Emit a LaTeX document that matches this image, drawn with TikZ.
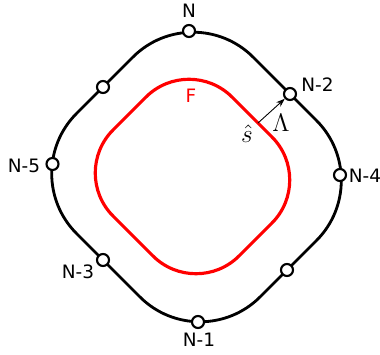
\documentclass[tikz,border=0pt]{standalone}
\usepackage{fontspec}
\setsansfont{DejaVu Sans}
\usetikzlibrary{arrows.meta}
\begin{document}
\begin{tikzpicture}[x=0.02cm,y=-0.02cm,
  site/.style={circle,draw,fill=white,line width=1.2pt,inner sep=0pt,minimum size=0.24cm},
  lbl/.style={font=\sffamily\fontsize{10.5}{12}\selectfont,inner sep=0pt}]
  \useasboundingbox (0,0) rectangle (380,355);
  % inner front F
  \draw[red,line width=1.8pt,rounded corners=1.22cm] (129.5,113.5) -- (189,54) -- (315,180) -- (196,299) -- (70,173) -- (129.5,113.5);
  \node[lbl,red] (F) at (191,96) {F};
  % outer front
  \draw[line width=1.6pt,rounded corners=1.7cm] (104.75,85.25) -- (193,-3) -- (376.5,180.5) -- (200,357) -- (16.5,173.5) -- (104.75,85.25);
  \node[site] (n) at (189,31) {};
  \node[site] (a) at (103,87) {};
  \node[site] (n2) at (290,94) {};
  \node[site] (n5) at (52.5,164) {};
  \node[site] (n4) at (340,175) {};
  \node[site] (n3) at (103,260) {};
  \node[site] (b) at (287,270) {};
  \node[site] (n1) at (198,322) {};
  \node[lbl] (ln) at (189,11) {N};
  \node[lbl] (ln2) at (317.5,85) {N-2};
  \node[lbl] (ln5) at (24,166) {N-5};
  \node[lbl] (ln4) at (365,176) {N-4};
  \node[lbl] (ln3) at (78,272) {N-3};
  \node[lbl] (ln1) at (199,340) {N-1};
  % normal from F to N-2
  \coordinate (s) at (258,123);
  \draw[-{Stealth[length=5pt,width=3.5pt]},line width=0.5pt] (s) -- (n2);
  \node[font=\fontsize{15}{17}\selectfont,inner sep=0pt] (shat) at (247,134) {$\hat{s}$};
  \node[font=\fontsize{15}{17}\selectfont,inner sep=0pt] (lam) at (281,123) {$\Lambda$};
\end{tikzpicture}
\end{document}
